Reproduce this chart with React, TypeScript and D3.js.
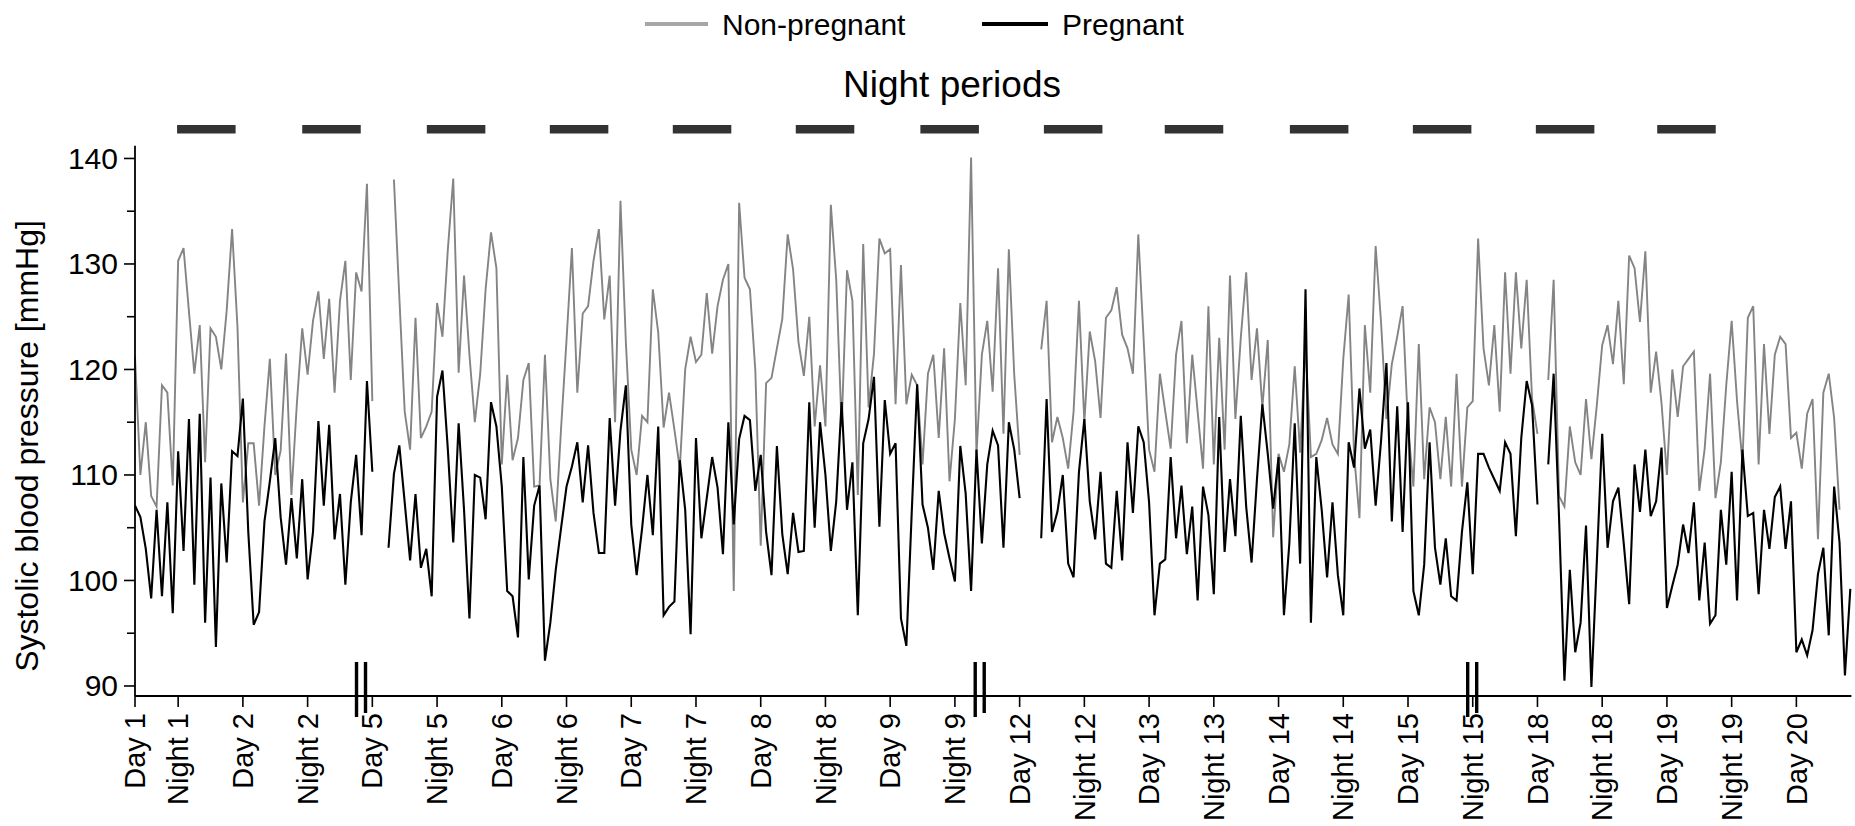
import React, { useEffect, useRef } from "react";
import * as d3 from "d3";

// hourly systolic readings, index = hours after the "Day 1" mark, null = no recording
const nonPregnant: (number | null)[] = [
  121.2, 110, 115, 108, 107, 118.5, 117.8, 109, 130.3, 131.5, 125.5, 119.6,
  124.2, 111.2, 123.9, 123.1, 120, 125.6, 133.3, 124, 107.4, 113, 113, 107.1,
  114.6, 121, 110, 112.3, 121.5, 108.1, 116.7, 123.9, 119.5, 124.6, 127.4, 121,
  126.7, 117.8, 126.5, 130.3, 119, 129.2, 127.4, 137.6, 117, null, null, null,
  138, 126.9, 116, 112.4, 124.9, 113.5, 114.6, 116, 126.3, 123.1, 131.4, 138.1,
  119.7, 128.9, 121.4, 115, 119.6, 127.6, 133, 129.6, 111, 119.5, 111.4, 113.5,
  119, 120.6, 108.9, 109, 121.4, 109.6, 105.6, 114.5, 122.8, 131.5, 117.8, 125.3,
  126, 130.3, 133.3, 124.75, 128.9, 115, 136, 122.6, 112.4, 110, 115.6, 115,
  127.6, 123.5, 114.5, 117.8, 114.3, 110.6, 120, 123.1, 120.7, 121.4, 127.25, 121.5,
  126, 128.5, 130, 99, 135.8, 128.7, 127.6, 119.9, 103.3, 118.7, 119.2, 122,
  124.8, 132.8, 129.5, 122.6, 119.4, 125, 114.6, 120.4, 114.6, 135.6, 128.5, 114.6,
  129.4, 126.5, 108.1, 131.9, 116.4, 121.5, 132.4, 131, 131.4, 116.7, 129.9, 116.7,
  119.5, 118.5, 111, 119.6, 121.4, 113.5, 122, 109.4, 115.3, 126.3, 118.5, 140.1,
  112, 121.4, 124.6, 117.9, 129.6, 113.9, 131.4, 119.5, 111.9, null, null, null,
  121.9, 126.5, 113.1, 115.5, 113.5, 110.6, 116, 126.5, 115, 123.6, 120.8, 115.4,
  124.9, 125.6, 127.8, 123.3, 122, 119.6, 132.8, 122.7, 112.4, 110.3, 119.6, 116,
  112.5, 121.4, 124.6, 113, 121.4, 116, 110.6, 126, 111, 123, 112.4, 128.9,
  115.3, 123, 129.2, 119, 123.9, 116.4, 122.8, 104.1, 112, 110.3, 112.9, 120.3,
  112.1, 122.4, 111.7, 112, 113.3, 115.4, 112.9, 112, 121, 127.1, 112, 105.9,
  124.2, 117.8, 131.7, 124.5, 115.3, 120.5, 123.1, 126, 114.6, 108.9, 122.4, 109.6,
  116.4, 115, 109.6, 115.5, 108.9, 119.6, 108.9, 116.4, 117, 132.4, 122, 118.5,
  124.2, 116, 129.2, 119.6, 129.2, 122, 128.5, 117.2, 113.9, null, 119, 128.5,
  108, 107, 114.6, 111.2, 110, 117.2, 111.5, 116.6, 122.3, 124.2, 120.5, 126.5,
  118.6, 130.8, 129.6, 124.5, 131.2, 117.8, 121.7, 116.8, 110, 120, 115.5, 120.3,
  121, 121.7, 108.5, 112.5, 119.6, 107.8, 111.2, 118.5, 124.6, 117, 111.2, 124.9,
  126, 111, 122.4, 113.9, 121.4, 123.1, 122.4, 113.5, 114, 110.6, 115.8, 117.2,
  103.9, 117.8, 119.6, 115.4, 106.7, null, null,
];

const pregnant: (number | null)[] = [
  107.1, 106, 103, 98.3, 106.7, 98.5, 107.4, 96.9, 112.25, 102.8, 115.3, 99.6,
  115.8, 96, 109.75, 93.7, 109.2, 101.7, 112.25, 111.8, 117.25, 104.6, 95.8, 97,
  105.6, 109.4, 113.5, 106, 101.5, 107.8, 102.1, 109.6, 100.1, 104.6, 115.1, 107.1,
  114.75, 103.9, 108.2, 99.6, 107.4, 111.9, 104.3, 118.9, 110.3, null, null, 103.1,
  110.1, 112.8, 107.4, 101.9, 108.2, 101.2, 103, 98.5, 117.4, 119.9, 112.4, 103.6,
  114.9, 106.7, 96.4, 110, 109.75, 105.8, 116.9, 114.6, 108.9, 99, 98.5, 94.6,
  111.7, 100.1, 107.1, 109, 92.4, 96, 101, 105, 108.9, 110.8, 113.1, 107.4,
  112.8, 106.4, 102.6, 102.6, 115.4, 107.1, 114.2, 118.5, 105.3, 100.5, 104.9, 110,
  104.3, 114.6, 96.7, 97.5, 98, 111.4, 106.7, 94.9, 113.5, 104, 107.8, 111.7,
  108.8, 102.5, 115, 105.3, 113.4, 115.6, 115.2, 108.5, 111.9, 104.6, 100.5, 112.75,
  104.4, 100.6, 106.4, 102.7, 102.8, 116.9, 105, 115, 110, 102.8, 107.5, 116.9,
  106.7, 111.2, 96.7, 113, 115.3, 119.3, 105.1, 117.1, 112, 113, 96.4, 93.8,
  106.5, 118.6, 107.2, 105, 101, 108.5, 104.5, 102.1, 99.9, 112.75, 108.2, 99,
  112.4, 103.5, 111, 114.2, 112.8, 103.1, 115, 112.4, 107.8, null, null, null,
  104, 117.2, 104.6, 106.5, 110, 101.6, 100.3, 110.3, 115.3, 107.5, 103.9, 110.3,
  101.6, 101.2, 108.5, 101.9, 113.1, 106.4, 114.6, 113.1, 107.4, 96.7, 101.6, 102,
  111.7, 104, 109, 102.5, 107, 98.1, 108.9, 106.2, 98.7, 115.5, 102.7, 109.6,
  104.2, 115.6, 107, 101.7, 109.6, 116.7, 112, 106.8, 111.7, 96.7, 103.5, 114.9,
  101.6, 127.6, 96, 111.7, 106.7, 100.3, 107.4, 100.5, 96.7, 113.1, 110.7, 118.2,
  112.5, 114.3, 107.1, 113.2, 120.6, 105.6, 116.5, 104.6, 116.9, 99, 96.7, 101.5,
  113.1, 103.1, 99.6, 104, 98.5, 98.1, 104.6, 109.3, 100.6, 112, 112, 110.7,
  109.6, 108.5, 113.1, 112, 104.2, 113.5, 118.9, 116.6, 107.2, null, 111, 119.6,
  106, 90.5, 101, 93.2, 96, 105.2, 89.9, 101.7, 113.9, 103.1, 107.5, 108.8,
  103.5, 97.75, 111, 106.5, 112.4, 106.1, 107.5, 112.6, 97.4, 99.5, 101.5, 105.3,
  102.6, 107.4, 98.1, 103.6, 95.9, 96.7, 106.7, 101.5, 110.3, 98.1, 112.4, 106.1,
  106.4, 98.7, 106.7, 103, 107.9, 108.9, 103, 107.5, 93.2, 94.4, 92.9, 95.3,
  100.6, 103.1, 94.8, 108.9, 103.6, 91, 99.2,
];

const tickHours = [
  0, 8, 20, 32, 44, 56, 68, 80, 92, 104, 116, 128, 140, 152,
  164, 176, 188, 200, 212, 224, 236, 248, 260, 272, 284, 296, 308,
];
const tickLabels = [
  "Day 1", "Night 1", "Day 2", "Night 2", "Day 5", "Night 5", "Day 6", "Night 6",
  "Day 7", "Night 7", "Day 8", "Night 8", "Day 9", "Night 9", "Day 12", "Night 12",
  "Day 13", "Night 13", "Day 14", "Night 14", "Day 15", "Night 15", "Day 18",
  "Night 18", "Day 19", "Night 19", "Day 20",
];

// night period bars (start hour) and their length in hours
const nightStarts = [7.8, 31, 54.1, 76.9, 99.7, 122.5, 145.6, 168.5, 190.9, 214.1, 236.9, 259.7, 282.2];
const nightLength = 10.85;

// axis break marks (hour)
const breakHours = [41.9, 156.6, 247.9];

const yMajor = [90, 100, 110, 120, 130, 140];
const yMinor = [95, 105, 115, 125, 135];

const FONT = "'Liberation Sans', Arial, Helvetica, sans-serif";
const GRAY = "#848484";

function drawChart(svgEl: SVGSVGElement) {
  const svg = d3.select(svgEl);
  svg.selectAll("*").remove();

  const x = d3.scaleLinear().domain([0, 318.2]).range([135, 1851.4]);
  const y = d3.scaleLinear().domain([89.05, 141.2]).range([696, 145.8]);

  // legend
  const legend = svg.append("g");
  legend.append("line")
    .attr("x1", 645).attr("x2", 708).attr("y1", 24).attr("y2", 24)
    .attr("stroke", "#a6a6a6").attr("stroke-width", 4);
  legend.append("text")
    .attr("x", 722).attr("y", 35)
    .attr("font-family", FONT).attr("font-size", 30)
    .text("Non-pregnant");
  legend.append("line")
    .attr("x1", 982).attr("x2", 1048).attr("y1", 24).attr("y2", 24)
    .attr("stroke", "#000").attr("stroke-width", 4);
  legend.append("text")
    .attr("x", 1062).attr("y", 35)
    .attr("font-family", FONT).attr("font-size", 30)
    .text("Pregnant");

  // night periods
  svg.append("text")
    .attr("x", 952).attr("y", 97)
    .attr("text-anchor", "middle")
    .attr("font-family", FONT).attr("font-size", 37)
    .text("Night periods");

  svg.append("g")
    .selectAll("rect")
    .data(nightStarts)
    .join("rect")
    .attr("x", d => x(d))
    .attr("width", d => x(d + nightLength) - x(d))
    .attr("y", 125)
    .attr("height", 8.5)
    .attr("fill", "#333333");

  // data lines
  const line = d3.line<number | null>()
    .defined(d => d != null)
    .x((d, i) => x(i))
    .y(d => y(d as number));

  svg.append("path")
    .datum(nonPregnant)
    .attr("fill", "none")
    .attr("stroke", GRAY)
    .attr("stroke-width", 1.9)
    .attr("d", line);

  svg.append("path")
    .datum(pregnant)
    .attr("fill", "none")
    .attr("stroke", "#000")
    .attr("stroke-width", 2.1)
    .attr("d", line);

  // y axis
  const yAxis = svg.append("g").attr("stroke", "#000");
  yAxis.append("line")
    .attr("x1", x(0)).attr("x2", x(0))
    .attr("y1", y.range()[0]).attr("y2", y.range()[1])
    .attr("stroke-width", 1.8);
  yAxis.selectAll("line.major")
    .data(yMajor)
    .join("line")
    .attr("class", "major")
    .attr("x1", x(0) - 11).attr("x2", x(0))
    .attr("y1", d => y(d)).attr("y2", d => y(d))
    .attr("stroke-width", 1.6);
  yAxis.selectAll("line.minor")
    .data(yMinor)
    .join("line")
    .attr("class", "minor")
    .attr("x1", x(0) - 8).attr("x2", x(0))
    .attr("y1", d => y(d)).attr("y2", d => y(d))
    .attr("stroke-width", 1.6);
  svg.append("g")
    .selectAll("text")
    .data(yMajor)
    .join("text")
    .attr("x", x(0) - 17)
    .attr("y", d => y(d))
    .attr("dy", "0.35em")
    .attr("text-anchor", "end")
    .attr("font-family", FONT).attr("font-size", 30)
    .text(d => d);

  svg.append("text")
    .attr("transform", "translate(38,446) rotate(-90)")
    .attr("text-anchor", "middle")
    .attr("font-family", FONT).attr("font-size", 32)
    .text("Systolic blood pressure [mmHg]");

  // x axis
  const xAxis = svg.append("g").attr("stroke", "#000");
  xAxis.append("line")
    .attr("x1", x(0)).attr("x2", x.range()[1])
    .attr("y1", 696).attr("y2", 696)
    .attr("stroke-width", 1.8);
  xAxis.selectAll("line.tick")
    .data(tickHours)
    .join("line")
    .attr("class", "tick")
    .attr("x1", d => x(d)).attr("x2", d => x(d))
    .attr("y1", 696).attr("y2", 707)
    .attr("stroke-width", 1.6);
  svg.append("g")
    .selectAll("text")
    .data(tickHours)
    .join("text")
    .attr("transform", d => `translate(${x(d)},713) rotate(-90)`)
    .attr("dy", "0.35em")
    .attr("text-anchor", "end")
    .attr("font-family", FONT).attr("font-size", 29)
    .text((d, i) => tickLabels[i]);

  // break marks
  const breaks = svg.append("g").attr("stroke", "#000").attr("stroke-width", 3.4);
  breaks.selectAll("line.l")
    .data(breakHours)
    .join("line")
    .attr("class", "l")
    .attr("x1", d => x(d) - 4.5).attr("x2", d => x(d) - 4.5)
    .attr("y1", 662).attr("y2", 717);
  breaks.selectAll("line.r")
    .data(breakHours)
    .join("line")
    .attr("class", "r")
    .attr("x1", d => x(d) + 4.5).attr("x2", d => x(d) + 4.5)
    .attr("y1", 662).attr("y2", 713);
}

export default function App() {
  const svgRef = useRef<SVGSVGElement>(null);

  useEffect(() => {
    document.body.style.margin = "0";
    if (svgRef.current) drawChart(svgRef.current);
  }, []);

  return (
    <div style={{ width: 1855, height: 826, overflow: "hidden", background: "#fff" }}>
      <svg ref={svgRef} width={1855} height={826} style={{ display: "block" }} />
    </div>
  );
}
